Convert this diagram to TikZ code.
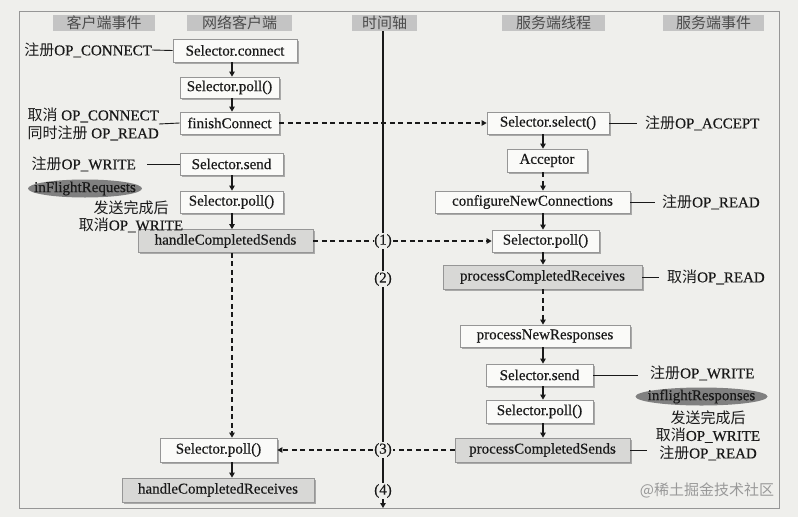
\documentclass[tikz,border=0pt]{standalone}
\usepackage{fontspec}
\setmainfont{Liberation Serif}[FakeBold=0.5]
\newfontfamily\cjk{Noto Sans CJK SC}
\usetikzlibrary{shadows,arrows.meta}
\definecolor{bg}{RGB}{239,239,236}
\definecolor{boxfill}{RGB}{250,250,248}
\definecolor{boxdraw}{RGB}{150,150,150}
\definecolor{gboxfill}{RGB}{216,216,214}
\definecolor{hdrfill}{RGB}{196,196,196}
\definecolor{ellfill}{RGB}{128,128,128}
\definecolor{frame}{RGB}{150,150,150}
\definecolor{ink}{RGB}{25,25,25}
\begin{document}
\begin{tikzpicture}[x=1pt,y=-1pt,
  font=\fontsize{15}{17}\selectfont, text=ink,
  box/.style={draw=boxdraw, fill=boxfill, line width=0.8pt, inner sep=0pt,
    minimum height=22pt,
    drop shadow={shadow xshift=1.5pt,shadow yshift=-1.5pt,fill=black!45,opacity=.7}},
  gbox/.style={box, fill=gboxfill},
  hdr/.style={fill=hdrfill, inner sep=0pt, minimum height=16pt, text=black!70},
  lab/.style={inner sep=0pt},
  arr/.style={draw=ink, line width=1.1pt, -{Triangle[length=5pt,width=5.5pt]}},
  darr/.style={arr, dash pattern=on 5pt off 3.5pt},
  dline/.style={draw=ink, line width=1.1pt, dash pattern=on 5pt off 3.5pt},
  ann/.style={draw=ink, line width=0.9pt},
  tnum/.style={fill=bg, inner sep=1pt}]
\useasboundingbox (0,0) rectangle (798,517);
\fill[bg] (0,0) rectangle (798,517);
\draw[frame, line width=1pt] (19,11) rectangle (779,508);

% headers
\node[hdr, minimum width=102pt] (H1) at (104,23) {\cjk 客户端事件};
\node[hdr, minimum width=105pt] (H2) at (239.5,23) {\cjk 网络客户端};
\node[hdr, minimum width=65pt]  (H3) at (384.5,23) {\cjk 时间轴};
\node[hdr, minimum width=103pt] (H4) at (553.5,23) {\cjk 服务端线程};
\node[hdr, minimum width=101pt] (H5) at (713.5,23) {\cjk 服务端事件};

% timeline
\coordinate (tlx) at (383,0);
\coordinate (tbot) at (383,508);
\draw[arr] (H3.south -| tlx) -- (tbot);
\node[tnum] (t1) at (383,241) {(1)};
\node[tnum] (t2) at (383,279) {(2)};
\node[tnum] (t3) at (383,450) {(3)};
\node[tnum] (t4) at (383,491) {(4)};

% client column
\coordinate (colL) at (232,0);
\node[box, minimum width=124pt, minimum height=23pt] (c1) at (235,50.5) {Selector.connect};
\node[box, minimum width=99pt, minimum height=21pt] (c2) at (229.5,87.5) {Selector.poll()};
\node[box, minimum width=99pt] (c3) at (229.5,123) {finishConnect};
\node[box, minimum width=103pt] (c4) at (231.5,164) {Selector.send};
\node[box, minimum width=103pt] (c5) at (231.5,202) {Selector.poll()};
\node[gbox, minimum width=175pt, minimum height=23pt] (c6) at (225.5,241) {handleCompletedSends};
\node[box, minimum width=117pt, minimum height=24pt] (c7) at (218.5,450) {Selector.poll()};
\node[gbox, minimum width=192pt, minimum height=24pt] (c8) at (218,490) {handleCompletedReceives};

\draw[arr] (c1.south -| colL) -- (c2.north -| colL);
\draw[arr] (c2.south -| colL) -- (c3.north -| colL);
\draw[arr] (c4.south -| colL) -- (c5.north -| colL);
\draw[arr] (c5.south -| colL) -- (c6.north -| colL);
\draw[darr] (c6.south -| colL) -- (c7.north -| colL);
\draw[arr] (c7.south -| colL) -- (c8.north -| colL);

% client labels
\node[lab, anchor=east] (L1) at (152,50) {{\cjk 注册}OP\_CONNECT};
\draw[ann] (L1.east) -- (c1.west);
\node[lab, anchor=east, align=left, font=\fontsize{15}{18}\selectfont] (L2) at (159,124) {{\cjk 取消} OP\_CONNECT\\{\cjk 同时注册} OP\_READ};
\draw[ann] (L2.east) -- (c3.west);
\node[lab, anchor=east] (L3) at (136,164) {{\cjk 注册}OP\_WRITE};
\draw[ann, shorten <=11pt] (L3.east) -- (c4.west);
\fill[ellfill] (85,188.5) ellipse [x radius=57pt, y radius=9pt];
\node[lab] (E1) at (85,188.5) {inFlightRequests};
\node[lab, align=center, font=\fontsize{15}{17}\selectfont] (L4) at (131,216.5) {{\cjk 发送完成后}\\{\cjk 取消}OP\_WRITE};

% server column
\coordinate (colR) at (543,0);
\node[box, minimum width=122pt] (s1) at (548,123) {Selector.select()};
\node[box, minimum width=80pt, minimum height=23pt] (s2) at (547,160.5) {Acceptor};
\node[box, minimum width=195pt] (s3) at (532.5,202) {configureNewConnections};
\node[box, minimum width=107pt] (s4) at (545.5,241) {Selector.poll()};
\node[gbox, minimum width=199pt, minimum height=24pt] (s5) at (542.5,277) {processCompletedReceives};
\node[box, minimum width=170pt] (s6) at (545,336) {processNewResponses};
\node[box, minimum width=107pt] (s7) at (539.5,375) {Selector.send};
\node[box, minimum width=107pt, minimum height=23pt] (s8) at (539.5,411.5) {Selector.poll()};
\node[gbox, minimum width=175pt, minimum height=24pt] (s9) at (542.5,450) {processCompletedSends};

\draw[arr] (s1.south -| colR) -- (s2.north -| colR);
\draw[darr] (s2.south -| colR) -- (s3.north -| colR);
\draw[arr] (s3.south -| colR) -- (s4.north -| colR);
\draw[arr] (s4.south -| colR) -- (s5.north -| colR);
\draw[darr] (s5.south -| colR) -- (s6.north -| colR);
\draw[arr] (s6.south -| colR) -- (s7.north -| colR);
\draw[arr] (s7.south -| colR) -- (s8.north -| colR);
\draw[arr] (s8.south -| colR) -- (s9.north -| colR);

% server labels
\node[lab, anchor=west] (R1) at (645,123) {{\cjk 注册}OP\_ACCEPT};
\draw[ann, shorten >=8pt] (s1.east) -- (R1.west);
\node[lab, anchor=west] (R2) at (662,202) {{\cjk 注册}OP\_READ};
\draw[ann, shorten >=7pt] (s3.east) -- (R2.west);
\node[lab, anchor=west] (R3) at (667,277) {{\cjk 取消}OP\_READ};
\draw[ann, shorten >=8pt] (s5.east) -- (R3.west);
\node[lab, anchor=west] (R4) at (650,373) {{\cjk 注册}OP\_WRITE};
\draw[ann, shorten >=12pt] (s7.east) -- (R4.west |- s7.east);
\fill[ellfill] (701.5,396.5) ellipse [x radius=66pt, y radius=9pt];
\node[lab] (E2) at (701.5,396.5) {inflightResponses};
\node[lab, align=center, font=\fontsize{15}{17.5}\selectfont] (R5) at (708,435.5) {{\cjk 发送完成后}\\{\cjk 取消}OP\_WRITE\\{\cjk 注册}OP\_READ};
\draw[ann, shorten >=9pt] (s9.east) -- (R5.west |- s9.east);

% cross connectors
\draw[darr] (c3.east) -- (s1.west);
\draw[dline] (c6.east) -- (t1.west);
\draw[darr] (t1.east) -- (s4.west);
\draw[dline] (s9.west) -- (t3.east);
\draw[darr] (t3.west) -- (c7.east);

% watermark
\node[lab, text=black!40] (wm) at (707,490) {\cjk @稀土掘金技术社区};
\end{tikzpicture}
\end{document}
